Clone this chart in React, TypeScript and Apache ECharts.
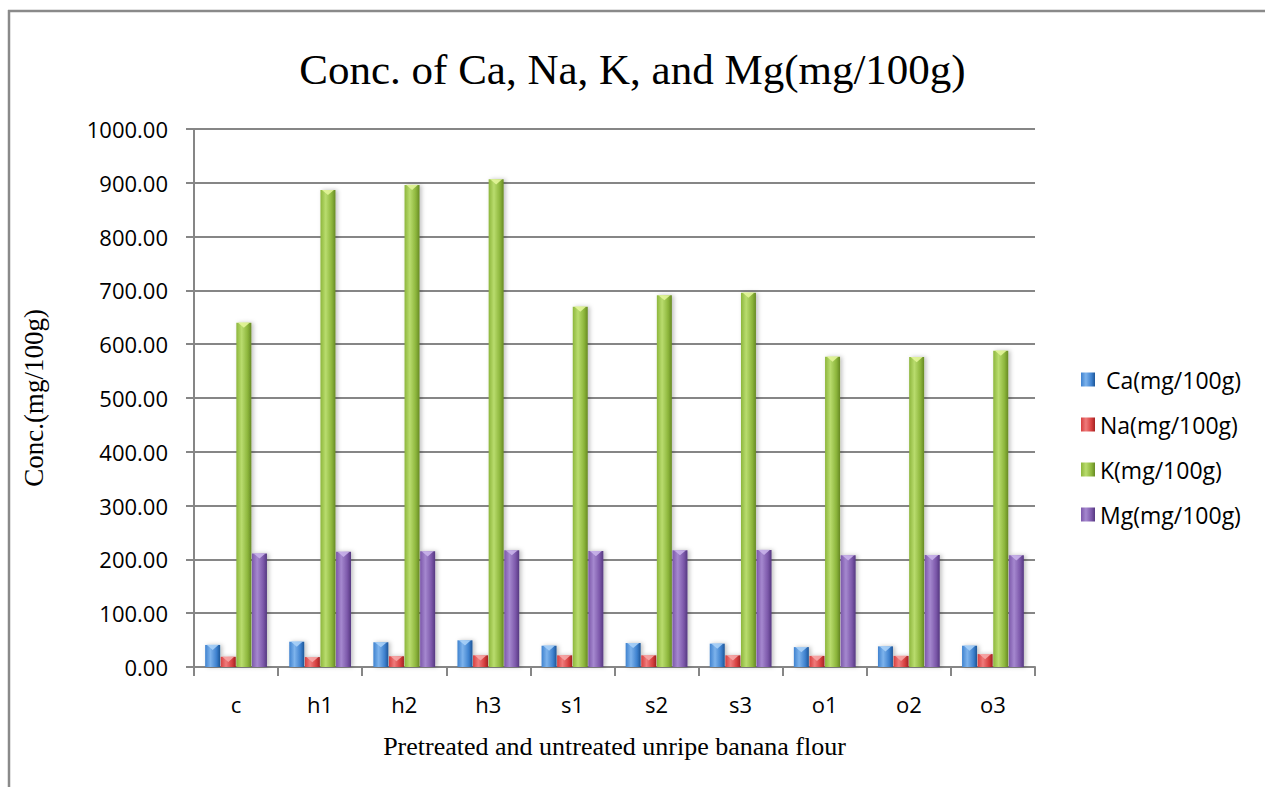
import React, { useEffect, useRef } from "react";
import * as echarts from "echarts";

// Sample groups along the x axis
const categories = ["c", "h1", "h2", "h3", "s1", "s2", "s3", "o1", "o2", "o3"];

// Mineral concentrations (mg/100g)
const caValues = [41, 47, 46, 49.6, 39.6, 44.6, 43.4, 37, 38.4, 39.6];
const naValues = [19, 18.5, 20, 21.7, 21.7, 21.7, 21.7, 20.6, 20.6, 24];
const kValues = [640, 886.6, 896, 906.5, 669.7, 691, 695.7, 576.8, 576, 588];
const mgValues = [211, 214, 215, 217, 215.5, 217, 217.6, 207.6, 208, 207.6];

const seriesNames = [" Ca(mg/100g)", "Na(mg/100g)", "K(mg/100g)", "Mg(mg/100g)"];
const yTicks = [0, 100, 200, 300, 400, 500, 600, 700, 800, 900, 1000];

const palette = [
  { dark: "#1d5698", mid: "#3f82cf", light: "#7db3ec", cap: "#a9d0f7" },
  { dark: "#a32222", mid: "#d63f3f", light: "#ef7b7b", cap: "#f6a7a7" },
  { dark: "#678a24", mid: "#8db63c", light: "#b9dc6e", cap: "#e3f59a" },
  { dark: "#553880", mid: "#7c58aa", light: "#a588cf", cap: "#c9b2ea" },
];

const BAR_W = 15;
const GAP = 0.6;

function barGradient(p: { dark: string; mid: string; light: string }) {
  return new echarts.graphic.LinearGradient(0, 0, 1, 0, [
    { offset: 0, color: p.mid },
    { offset: 0.35, color: p.light },
    { offset: 0.75, color: p.mid },
    { offset: 1, color: p.dark },
  ]);
}

export default function App() {
  const ref = useRef<HTMLDivElement>(null);

  useEffect(() => {
    if (!ref.current) return;
    const chart = echarts.init(ref.current, null, { renderer: "svg" });
    const data = [caValues, naValues, kValues, mgValues];

    const bars = data.map((vals, i) => ({
      name: seriesNames[i],
      type: "bar",
      data: vals,
      barWidth: BAR_W,
      barGap: "4%",
      barCategoryGap: "26%",
      itemStyle: {
        color: barGradient(palette[i]),
        shadowColor: "rgba(0,0,0,0.25)",
        shadowBlur: 4,
        shadowOffsetX: 2,
      },
    }));

    // Bevelled caps on top of each bar
    const caps = data.map((vals, i) => {
      const dx = (i - 1.5) * (BAR_W + GAP);
      return {
        name: seriesNames[i] + "-cap",
        type: "pictorialBar",
        data: vals,
        symbol: "path://M0,0 L10,0 L5,4 Z",
        symbolKeepAspect: false,
        symbolSize: [BAR_W - 3, 5],
        symbolPosition: "end",
        symbolOffset: [dx, 0],
        barGap: "-100%",
        itemStyle: { color: palette[i].cap, opacity: 0.9 },
        silent: true,
        z: 5,
      };
    });

    chart.setOption({
      animation: false,
      backgroundColor: "#ffffff",
      title: {
        text: "Conc. of Ca, Na, K, and Mg(mg/100g)",
        left: "center",
        top: 43,
        textStyle: {
          fontFamily: "Liberation Serif",
          fontWeight: "normal",
          fontSize: 43,
          color: "#000",
        },
      },
      legend: {
        data: seriesNames,
        orient: "vertical",
        left: 1076,
        top: 363,
        itemWidth: 14,
        itemHeight: 14,
        itemGap: 22,
        icon: "rect",
        textStyle: { fontFamily: "Open Sans", fontSize: 23, color: "#000" },
      },
      grid: { left: 194, right: 230, top: 129, bottom: 120, containLabel: false },
      xAxis: {
        type: "category",
        data: categories,
        name: "Pretreated and untreated unripe banana flour",
        nameLocation: "middle",
        nameGap: 66,
        nameTextStyle: { fontFamily: "Liberation Serif", fontSize: 26, color: "#000" },
        axisLine: { lineStyle: { color: "#868686", width: 2 } },
        axisTick: { show: true, length: 9, lineStyle: { color: "#868686", width: 2 } },
        axisLabel: { fontFamily: "Open Sans", fontSize: 22, color: "#000", margin: 26 },
      },
      yAxis: {
        type: "value",
        min: yTicks[0],
        max: yTicks[yTicks.length - 1],
        interval: 100,
        name: "Conc.(mg/100g)",
        nameLocation: "middle",
        nameRotate: 90,
        nameGap: 147,
        nameTextStyle: { fontFamily: "Liberation Serif", fontSize: 27, color: "#000" },
        axisLine: { show: true, lineStyle: { color: "#868686", width: 2 } },
        axisTick: { show: true, length: 8, lineStyle: { color: "#868686", width: 2 } },
        axisLabel: {
          fontFamily: "Open Sans",
          fontSize: 22,
          color: "#000",
          margin: 26,
          formatter: (v: number) => v.toFixed(2),
        },
        splitLine: { lineStyle: { color: "#868686", width: 2 } },
      },
      graphic: [
        {
          type: "line",
          shape: { x1: 9, y1: 10, x2: 9, y2: 787 },
          style: { stroke: "#8a8a8a", lineWidth: 2.5 },
          silent: true,
        },
        {
          type: "line",
          shape: { x1: 8, y1: 11, x2: 1265, y2: 11 },
          style: { stroke: "#8a8a8a", lineWidth: 2.5 },
          silent: true,
        },
      ],
      series: [...bars, ...caps],
    });

    return () => chart.dispose();
  }, []);

  return (
    <div
      ref={ref}
      style={{ position: "fixed", left: 0, top: 0, width: 1265, height: 787 }}
    />
  );
}
